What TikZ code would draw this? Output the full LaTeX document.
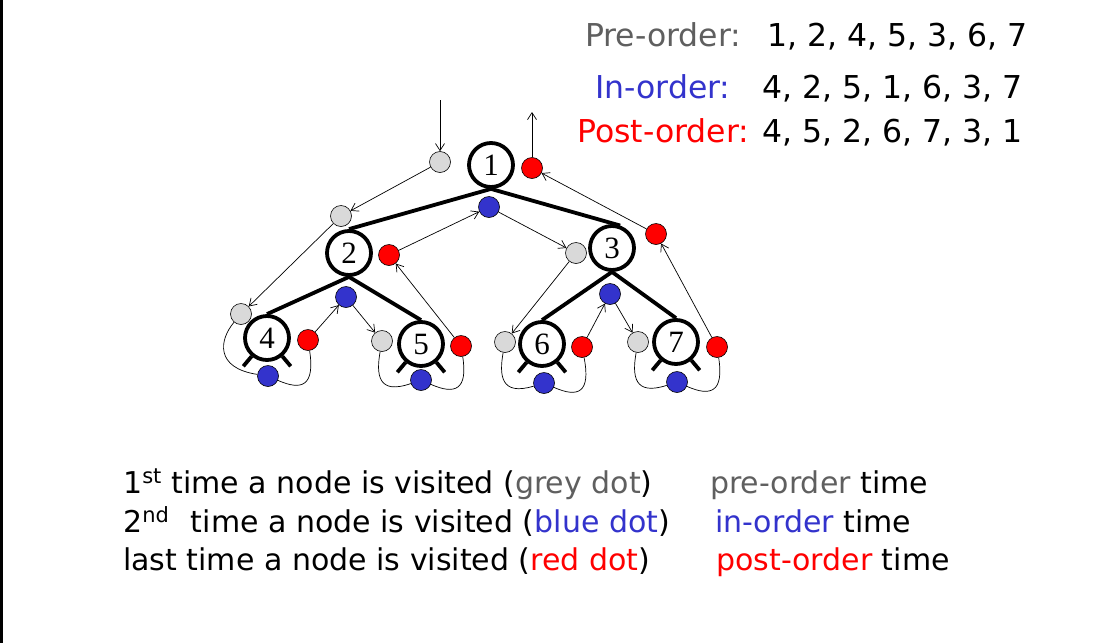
\documentclass[tikz,border=0pt]{standalone}
\usepackage{fontspec}
\setmainfont{DejaVu Sans}
\newfontfamily\numfont{Liberation Serif}
\usetikzlibrary{arrows.meta}
\definecolor{dotgrey}{HTML}{D9D9D9}
\definecolor{dotblue}{HTML}{3333CC}
\definecolor{dotred}{HTML}{FF0000}
\definecolor{txtgrey}{HTML}{5F5F5F}
\newcommand\mytopfont{\fontsize{31.5}{36}\selectfont}
\newcommand\mybotfont{\fontsize{30}{34}\selectfont}
\begin{document}
\begin{tikzpicture}[x=1pt,y=-1pt,
  treenode/.style={circle, draw, line width=3.8pt, minimum size=44pt, inner sep=0pt,
    font=\numfont\fontsize{31}{31}\selectfont},
  visdot/.style={circle, draw=black, line width=0.6pt, minimum size=21pt, inner sep=0pt},
  gdot/.style={visdot, fill=dotgrey},
  bdot/.style={visdot, fill=dotblue},
  rdot/.style={visdot, fill=dotred},
  treeedge/.style={line width=3.8pt},
  legline/.style={line width=3.8pt},
  arr/.style={line width=0.7pt, -{Straight Barb[length=7pt,width=9pt]}},
  loopline/.style={line width=0.7pt},
  toptext/.style={anchor=base west, inner sep=0pt, font=\mytopfont},
  bottext/.style={anchor=base west, inner sep=0pt, font=\mybotfont}
]
\useasboundingbox (0,0) rectangle (1102,643);
\draw[line width=2.6pt] (1.5,0) -- (1.5,643);

% tree nodes
\node[treenode] (n1) at (491,165) {1};
\node[treenode] (n2) at (349,253) {2};
\node[treenode] (n3) at (612,248) {3};
\node[treenode] (n4) at (267,338) {4};
\node[treenode] (n5) at (421,344) {5};
\node[treenode] (n6) at (542,344) {6};
\node[treenode] (n7) at (676,342) {7};

% tree edges
\draw[treeedge] (n1.south) -- (n2.north);
\draw[treeedge] (n1.south) -- (n3.70);
\draw[treeedge] (n2.south) -- (n4.north);
\draw[treeedge] (n2.south) -- (n5.north);
\draw[treeedge] (n3.south) -- (n6.north);
\draw[treeedge] (n3.south) -- (n7.north);

% null-child legs
\foreach \n in {n4,n5,n6,n7}{
  \draw[legline] (\n.-130) -- ++(-130:13pt);
  \draw[legline] (\n.-50) -- ++(-50:13pt);
}

% dots
\node[gdot] (g1) at (440,162) {};
\node[bdot] (b1) at (489,207) {};
\node[rdot] (r1) at (532,168) {};
\node[gdot] (g2) at (341,216) {};
\node[bdot] (b2) at (346,297) {};
\node[rdot] (r2) at (389,255) {};
\node[gdot] (g3) at (576,253) {};
\node[bdot] (b3) at (610,294) {};
\node[rdot] (r3) at (656,234) {};
\node[gdot] (g4) at (241,314) {};
\node[bdot] (b4) at (268,376) {};
\node[rdot] (r4) at (308,340) {};
\node[gdot] (g5) at (382,341) {};
\node[bdot] (b5) at (421,380) {};
\node[rdot] (r5) at (461,346) {};
\node[gdot] (g6) at (505,342) {};
\node[bdot] (b6) at (544,383) {};
\node[rdot] (r6) at (582,347) {};
\node[gdot] (g7) at (638,342) {};
\node[bdot] (b7) at (677,382) {};
\node[rdot] (r7) at (717,347) {};

% traversal arrows
\coordinate (start) at (440,100);
\coordinate (finish) at (532,112);
\draw[arr] (start) -- (g1);
\draw[arr] (r1) -- (finish);
\draw[arr] (g1) -- (g2);
\draw[arr] (g2) -- (g4);
\draw[arr] (r4) -- (b2);
\draw[arr] (b2) -- (g5);
\draw[arr] (r5) -- (r2);
\draw[arr] (r2) -- (b1);
\draw[arr] (b1) -- (g3);
\draw[arr] (g3) -- (g6);
\draw[arr] (r6) -- (b3);
\draw[arr] (b3) -- (g7);
\draw[arr] (r7) -- (r3);
\draw[arr] (r3) -- (r1);

% leaf loops
\draw[loopline] (g4) .. controls (219,340) and (215,368) .. (b4);
\draw[loopline] (b4) .. controls (302,391) and (315,386) .. (r4);
\draw[loopline] (g5) .. controls (376,375) and (378,395) .. (b5);
\draw[loopline] (b5) .. controls (455,395) and (468,390) .. (r5);
\draw[loopline] (g6) .. controls (499,376) and (501,396) .. (b6);
\draw[loopline] (b6) .. controls (578,398) and (591,393) .. (r6);
\draw[loopline] (g7) .. controls (632,376) and (634,396) .. (b7);
\draw[loopline] (b7) .. controls (711,397) and (724,392) .. (r7);

% orders
\node[toptext, text=txtgrey] (prel) at (585,46) {Pre-order:};
\node[toptext] (pren) at (767,46) {1, 2, 4, 5, 3, 6, 7};
\node[toptext, text=dotblue] (inl) at (595,98) {In-order:};
\node[toptext] (inn) at (762,98) {4, 2, 5, 1, 6, 3, 7};
\node[toptext, text=dotred] (postl) at (577,142) {Post-order:};
\node[toptext] (postn) at (762,142) {4, 5, 2, 6, 7, 3, 1};

% legend
\node[bottext] (l1) at (123,493) {1\textsuperscript{st} time a node is visited (\textcolor{txtgrey}{grey dot})};
\node[bottext] (l2) at (123,532) {2\textsuperscript{nd}\hspace{0.4em} time a node is visited (\textcolor{dotblue}{blue dot})};
\node[bottext] (l3) at (123,570) {last time a node is visited (\textcolor{dotred}{red dot})};
\node[bottext] (m1) at (710,493) {\textcolor{txtgrey}{pre-order} time};
\node[bottext] (m2) at (715,532) {\textcolor{dotblue}{in-order} time};
\node[bottext] (m3) at (716,570) {\textcolor{dotred}{post-order} time};
\end{tikzpicture}
\end{document}
